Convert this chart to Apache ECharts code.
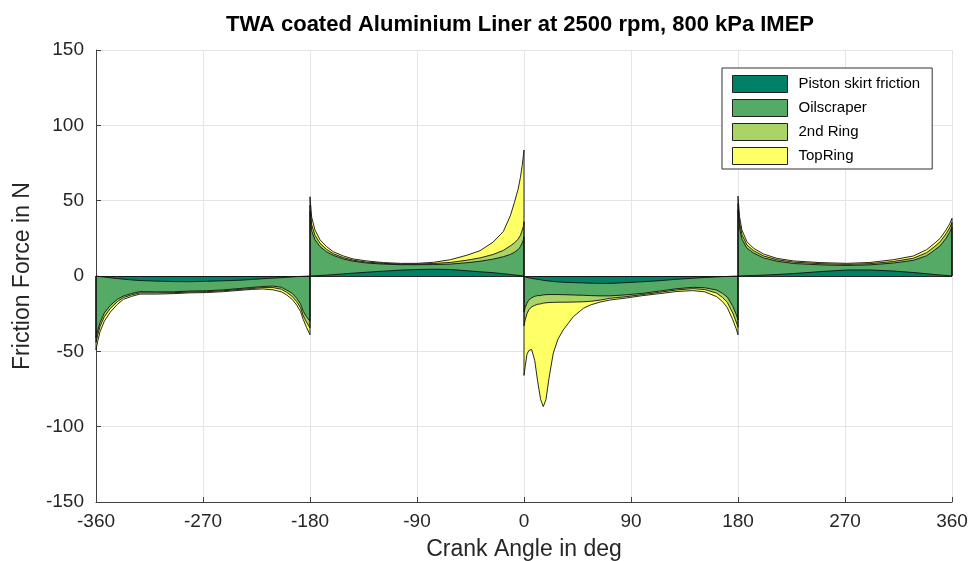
<!DOCTYPE html>
<html><head><meta charset="utf-8">
<script src="https://cdn.jsdelivr.net/npm/echarts@6/dist/echarts.min.js"></script>
<style>html,body{margin:0;padding:0;background:#fff}#c{width:971px;height:561px}</style>
</head><body><div id="c"></div>
<script>
// Crank angle samples (deg)
const crankAngle = [
  -360, -360, -358.5, -356.6, -353, -348, -342, -337, -330, -323, -309, -295, -281, -267, -253, -239, -229, -219.5, -211, -204, -199.6, -195, -191.2, -188, -185.6, -183, -180,
  -180, -178.6, -175.8, -171.6, -166, -160.4, -152, -143.6, -132.3, -118.3, -104, -90, -76, -62, -48, -37, -26, -17.4, -11.5, -8, -5, -3, -1.5, -0.5, 0,
  0, 1, 2.5, 4, 6.4, 9, 11.5, 14, 16.2, 18.5, 21, 24.6, 28.5, 33, 41.5, 50, 56, 64, 72, 86, 100, 114, 128, 142, 152, 162, 167, 171, 175.6, 178.5, 180,
  180, 181.3, 183.3, 187.5, 193, 201.5, 212.7, 226.7, 249, 271.5, 291, 310.6, 327.5, 338.7, 345, 350, 355, 358, 360, 360
];
// Friction force contributions (N)
const pistonSkirt = [
  0, 0, -0.2, -0.4, -0.7, -1.2, -1.7, -2.1, -2.6, -3.0, -3.4, -3.7, -3.8, -3.5, -3.2, -2.8, -2.3, -1.8, -1.4, -1.1, -0.9, -0.6, -0.4, -0.3, -0.2, -0.1, 0,
  0, 0.05, 0.15, 0.35, 0.6, 0.9, 1.4, 1.9, 2.5, 3.2, 3.9, 4.3, 4.5, 4.3, 3.5, 2.8, 2.2, 1.5, 1.0, 0.7, 0.45, 0.3, 0.15, 0.05, 0,
  0, -0.5, -1.0, -1.3, -1.6, -1.9, -2.2, -2.5, -2.9, -3.1, -3.3, -3.6, -3.9, -4.1, -4.4, -4.6, -4.8, -4.9, -4.9, -4.4, -3.8, -3.1, -2.2, -1.5, -1.0, -0.6, -0.4, -0.3, -0.15, -0.05, 0,
  0, 0.05, 0.1, 0.2, 0.35, 0.6, 1.0, 1.6, 2.9, 4.0, 4.0, 3.3, 2.3, 1.5, 1.0, 0.7, 0.35, 0.15, 0, 0
];
const oilscraper = [
  0, -41, -35.8, -30.6, -23.8, -18.3, -13.8, -11.2, -9, -7.4, -7.1, -6.8, -6.2, -6.3, -6.0, -5.5, -5.3, -5.2, -5.3, -6.4, -8.4, -10.9, -14.4, -18.2, -23.4, -26.9, -30,
  43, 30, 23.9, 19.2, 15.4, 12.8, 9.9, 7.9, 6.1, 4.7, 3.6, 3.2, 3.1, 3.6, 5.3, 7.0, 9.0, 11.3, 13.3, 15.1, 17, 19.2, 21.8, 24, 26,
  -24, -20.5, -17, -14.7, -12.9, -11.6, -10.8, -10.5, -9.6, -9.3, -9.0, -8.7, -8.4, -8.3, -8.2, -8.2, -8.2, -8.3, -8.3, -8.1, -7.7, -6.9, -6.3, -6.0, -6.8, -8.7, -11.1, -13.7, -19.9, -25.5, -29,
  44, 32, 24.4, 18.3, 14.9, 11.4, 8.8, 6.7, 4.5, 3.0, 3.4, 5.3, 8.1, 12, 16, 19.3, 24.7, 28.9, 32.5, 0
];
const secondRing = [
  0, -3, -3, -2.5, -2.5, -2, -1.5, -1, -0.9, -0.8, -0.7, -0.6, -0.6, -0.6, -0.6, -0.6, -0.7, -0.7, -1.0, -1.3, -1.5, -2, -2.2, -2.5, -2.9, -3.5, -4.5,
  4, 4, 3, 2.2, 1.6, 1.1, 0.9, 0.7, 0.6, 0.5, 0.4, 0.4, 0.7, 1.1, 1.7, 2.2, 3.1, 4.2, 5.7, 6.2, 7, 7.5, 8.5, 9, 10,
  -9, -8, -7, -6.5, -6, -6, -5.8, -5.5, -5.5, -5.4, -5.3, -5.2, -5.1, -5.0, -4.7, -4.3, -3.8, -2.8, -1.6, -1.2, -0.8, -0.8, -0.8, -0.9, -1.2, -2.0, -2.8, -3.5, -4.5, -5, -5,
  4, 3.5, 3, 2.1, 1.6, 1.3, 1.0, 0.9, 0.8, 0.7, 0.8, 1.0, 1.4, 2, 2.3, 2.7, 3, 2.8, 3, 0
];
const topRing = [
  0, -5, -4, -3.5, -3, -2.5, -1.8, -1.2, -1, -0.8, -0.8, -0.6, -0.6, -0.6, -0.6, -0.6, -0.6, -0.9, -1.5, -1.7, -1.8, -2, -2.3, -2.5, -2.5, -3.5, -4.5,
  5.6, 5, 3.5, 2.3, 1.9, 1.3, 1.1, 0.8, 0.8, 0.5, 0.5, 0.5, 0.8, 1.8, 3.3, 4.8, 8.2, 12.5, 20, 27, 33, 38.5, 43, 47, 47.6,
  -33, -31, -27, -27, -28.2, -36.5, -51.2, -63.5, -68.7, -64.2, -50.4, -33.8, -24.6, -18.4, -9.7, -4.3, -2.4, -1.3, -1.2, -0.9, -0.7, -0.9, -1.0, -1.3, -1.5, -2.4, -2.7, -3.5, -4.5, -4.5, -5,
  5, 3.9, 3, 2.2, 1.6, 1.3, 0.9, 0.8, 0.7, 0.7, 0.8, 1.2, 1.5, 2, 2.2, 2.3, 2.5, 2.7, 2.8, 0
];
const seriesNames = ['Piston skirt friction', 'Oilscraper', '2nd Ring', 'TopRing'];
const fillColors = ['#008066', '#55aa66', '#aad466', '#ffff66'];
const titleText = 'TWA coated Aluminium Liner at 2500 rpm, 800 kPa IMEP';

const FONT = 'Liberation Sans, Arial, Helvetica, sans-serif';
const layers = [pistonSkirt, oilscraper, secondRing, topRing];
let run = crankAngle.map(() => 0);
const cumulative = layers.map(arr => {
  run = run.map((v, i) => +(v + arr[i]).toFixed(4));
  return run.map((v, i) => [crankAngle[i], v]);
});

const series = [];
for (let k = layers.length - 1; k >= 0; k--) {
  const s = {
    name: seriesNames[k],
    type: 'line',
    data: cumulative[k],
    symbol: 'none',
    showSymbol: false,
    smooth: false,
    itemStyle: { color: fillColors[k] },
    lineStyle: { color: '#111', width: 0.9 },
    areaStyle: { color: fillColors[k], opacity: 1 },
    z: 2
  };
  if (k === 0) {
    s.markLine = {
      silent: true, symbol: ['none', 'none'], label: { show: false },
      lineStyle: { color: '#111', width: 0.9, type: 'solid' },
      data: [{ yAxis: 0 }], animation: false
    };
  }
  series.push(s);
}

const chart = echarts.init(document.getElementById('c'), null, { renderer: 'canvas' });
chart.setOption({
  animation: false,
  backgroundColor: '#ffffff',
  title: {
    text: titleText, left: 515, top: 9, textAlign: 'center',
    textStyle: { fontFamily: FONT, fontSize: 22, fontWeight: 'bold', color: '#000' }
  },
  legend: {
    orient: 'vertical', left: 722, top: 68,
    padding: [7, 12, 4, 10],
    itemWidth: 55, itemHeight: 17, itemGap: 6,
    backgroundColor: '#fff', borderColor: '#333', borderWidth: 1,
    textStyle: { fontFamily: FONT, fontSize: 15, color: '#000', padding: [0, 0, 0, 6] },
    data: seriesNames.map((n, i) => ({
      name: n, icon: 'rect',
      itemStyle: { color: fillColors[i], borderColor: '#222', borderWidth: 1 }
    }))
  },
  grid: { left: 96, right: 19, top: 50, bottom: 59, containLabel: false, outerBoundsMode: 'none' },
  xAxis: {
    type: 'value', min: -360, max: 360, interval: 90,
    name: 'Crank Angle in deg', nameLocation: 'middle', nameGap: 36,
    nameTextStyle: { fontFamily: FONT, fontSize: 23, color: '#262626' },
    axisLine: { onZero: false, lineStyle: { color: '#404040', width: 1 } },
    axisTick: { inside: true, length: 5, lineStyle: { color: '#404040' } },
    axisLabel: { fontFamily: FONT, fontSize: 19, color: '#262626', margin: 10 },
    splitLine: { show: true, lineStyle: { color: '#e4e4e4', width: 1 } }
  },
  yAxis: {
    type: 'value', min: -150, max: 150, interval: 50,
    name: 'Friction Force in N', nameLocation: 'middle', nameGap: 62,
    nameTextStyle: { fontFamily: FONT, fontSize: 23, color: '#262626' },
    axisLine: { show: true, onZero: false, lineStyle: { color: '#404040', width: 1 } },
    axisTick: { show: true, inside: true, length: 5, lineStyle: { color: '#404040' } },
    axisLabel: { fontFamily: FONT, fontSize: 19, color: '#262626', margin: 12 },
    splitLine: { show: true, lineStyle: { color: '#e4e4e4', width: 1 } }
  },
  series: series
});
</script></body></html>
